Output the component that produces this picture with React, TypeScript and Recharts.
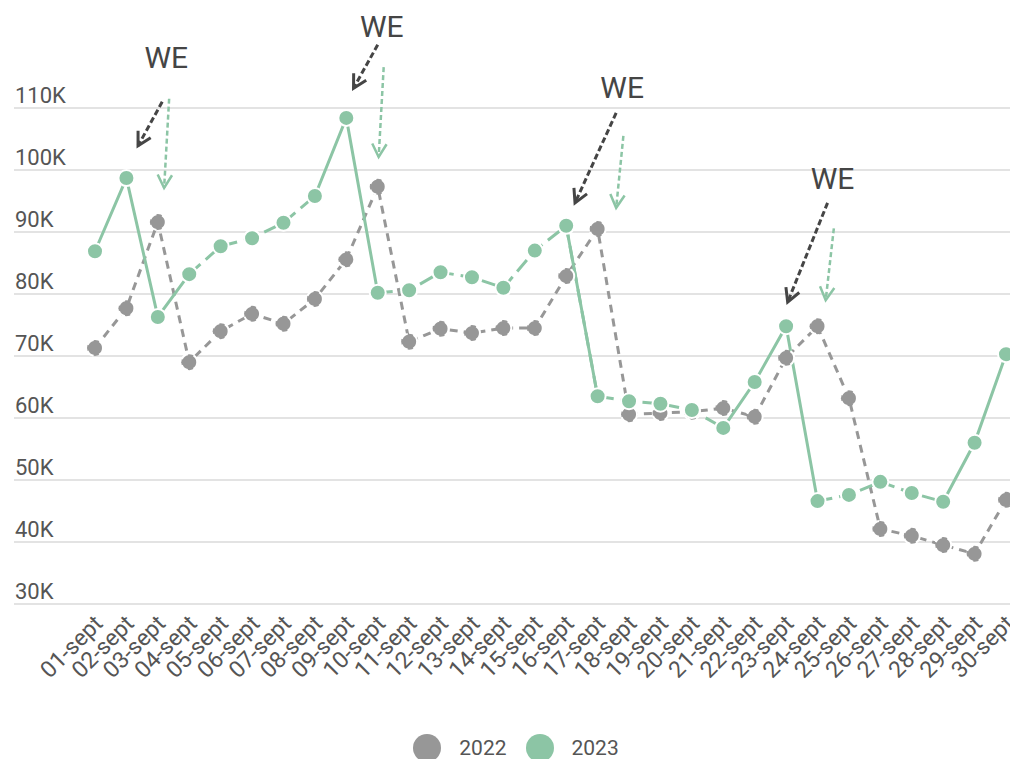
import React from 'react';
import {
    LineChart, Line, XAxis, YAxis, CartesianGrid, Legend, ReferenceLine, ReferenceDot
} from 'recharts';

const GRAY = '#979797';
const GREEN = '#8cc5a5';
const DARK = '#454545';
const TEXT = '#555555';

// Days of September
const categories = [
    '01-sept', '02-sept', '03-sept', '04-sept', '05-sept', '06-sept', '07-sept', '08-sept', '09-sept', '10-sept',
    '11-sept', '12-sept', '13-sept', '14-sept', '15-sept', '16-sept', '17-sept', '18-sept', '19-sept', '20-sept',
    '21-sept', '22-sept', '23-sept', '24-sept', '25-sept', '26-sept', '27-sept', '28-sept', '29-sept', '30-sept',
];

const values2022 = [
    71300, 77700, 91600, 69000, 74000, 76800, 75200, 79200, 85600, 97300,
    72300, 74400, 73700, 74500, 74500, 82900, 90500, 60600, 60800, 61000,
    61600, 60200, 69700, 74800, 63200, 42100, 41000, 39500, 38100, 46800,
];

const values2023 = [
    86900, 98700, 76300, 83200, 87700, 89000, 91500, 95800, 108400, 80200,
    80600, 83500, 82700, 81000, 87000, 91000, 63500, 62700, 62300, 61300,
    58400, 65800, 74800, 46600, 47600, 49700, 47900, 46500, 56000, 70300,
];

// day ranges where the 2023 line is drawn solid (the rest is dashed)
const solidRanges2023 = [[1, 4], [8, 10], [16, 17], [21, 24], [28, 30]];

const yTicks = [30000, 40000, 50000, 60000, 70000, 80000, 90000, 100000, 110000];

// "WE" annotations, in chart coordinates (day, value)
const weLabels = [
    { x: 3.27, y: 118200 },
    { x: 10.13, y: 123100 },
    { x: 17.78, y: 113400 },
    { x: 24.48, y: 98700 },
];

const arrows2022 = [
    { x1: 3.14, y1: 111000, x2: 2.37, y2: 103900 },
    { x1: 10.0, y1: 120200, x2: 9.23, y2: 113200 },
    { x1: 17.59, y1: 109200, x2: 16.28, y2: 94700 },
    { x1: 24.32, y1: 94700, x2: 23.05, y2: 78700 },
];

const arrows2023 = [
    { x1: 3.36, y1: 111500, x2: 3.2, y2: 97100 },
    { x1: 10.19, y1: 116600, x2: 10.03, y2: 102100 },
    { x1: 17.82, y1: 105500, x2: 17.59, y2: 93900 },
    { x1: 24.52, y1: 90600, x2: 24.26, y2: 79000 },
];

const legendItems = [
    { label: '2022', color: GRAY },
    { label: '2023', color: GREEN },
];

const segSolid = (d: number) => solidRanges2023.some(([a, b]) => a <= d && d + 1 <= b);

const data = categories.map((label, i) => {
    const day = i + 1;
    const prevSolid = day > 1 ? segSolid(day - 1) : null;
    const nextSolid = day < categories.length ? segSolid(day) : null;
    const inSolid = prevSolid === true || nextSolid === true;
    const inDashed = prevSolid === false || nextSolid === false;
    return {
        day,
        label,
        y2022: values2022[i],
        y2023: values2023[i],
        y2023s: inSolid ? values2023[i] : null,
        y2023d: inDashed ? values2023[i] : null,
    };
});

const Arrow = (props: any) => {
    const { x1, y1, x2, y2, color, dash, width } = props;
    if ([x1, y1, x2, y2].some(v => v == null || isNaN(v))) return null;
    const a = Math.atan2(y2 - y1, x2 - x1);
    const L = 15;
    const s = 0.5;
    const h1 = `${x2 - L * Math.cos(a - s)},${y2 - L * Math.sin(a - s)}`;
    const h2 = `${x2 - L * Math.cos(a + s)},${y2 - L * Math.sin(a + s)}`;
    return (
        <g>
            <line x1={x1} y1={y1} x2={x2} y2={y2} stroke={color} strokeWidth={width} strokeDasharray={dash} />
            <path d={`M${h1} L${x2},${y2} L${h2}`} fill="none" stroke={color} strokeWidth={width} />
        </g>
    );
};

const YTick = ({ x, y, payload }: any) => (
    <text x={x} y={y - 5} textAnchor="start" fontSize={22} fill={TEXT}>
        {`${payload.value / 1000}K`}
    </text>
);

const XTick = ({ x, y, payload }: any) => (
    <g transform={`translate(${x + 9},${y + 13})`}>
        <text x={0} y={0} textAnchor="end" fontSize={23} fill={TEXT} transform="rotate(-45)">
            {categories[payload.value - 1]}
        </text>
    </g>
);

const renderLegend = () => (
    <div style={{ display: 'flex', justifyContent: 'center', alignItems: 'center', height: 28, paddingLeft: 8 }}>
        {legendItems.map((item, i) => (
            <div key={item.label} style={{ display: 'flex', alignItems: 'center', marginLeft: i ? 19 : 0 }}>
                <span style={{ width: 28, height: 28, borderRadius: 14, background: item.color, display: 'inline-block' }} />
                <span style={{ marginLeft: 18, fontSize: 21, color: TEXT }}>{item.label}</span>
            </div>
        ))}
    </div>
);

const dotStyle = (color: string) => ({ r: 8, fill: color, stroke: '#fff', strokeWidth: 2 });

export default function App() {
    return (
        <div style={{ position: 'fixed', left: 0, top: 0, width: 1010, height: 759, overflow: 'hidden', background: '#fff', fontFamily: 'Roboto, sans-serif' }}>
            <LineChart width={1010} height={770} data={data} margin={{ top: 108, right: 0, left: 14, bottom: 8 }}>
                <CartesianGrid vertical={false} stroke="#e3e3e3" strokeWidth={2} />
                <XAxis
                    dataKey="day"
                    type="number"
                    domain={[1, 30]}
                    ticks={data.map(d => d.day)}
                    interval={0}
                    padding={{ left: 81, right: 4 }}
                    height={130}
                    axisLine={false}
                    tickLine={false}
                    tick={<XTick />}
                />
                <YAxis
                    type="number"
                    domain={[30000, 110000]}
                    ticks={yTicks}
                    width={1}
                    mirror
                    tickSize={0}
                    tickMargin={1}
                    axisLine={false}
                    tickLine={false}
                    tick={<YTick />}
                />
                <Legend verticalAlign="bottom" content={renderLegend} />

                <Line dataKey="y2022" stroke={GRAY} strokeWidth={3} strokeDasharray="8 6"
                    dot={dotStyle(GRAY)} activeDot={false} isAnimationActive={false} />
                <Line dataKey="y2023d" stroke={GREEN} strokeWidth={3} strokeDasharray="15 7"
                    dot={false} activeDot={false} isAnimationActive={false} />
                <Line dataKey="y2023s" stroke={GREEN} strokeWidth={3}
                    dot={false} activeDot={false} isAnimationActive={false} />
                <Line dataKey="y2023" stroke="none" strokeWidth={0}
                    dot={dotStyle(GREEN)} activeDot={false} isAnimationActive={false} />

                {arrows2022.map((a, i) => (
                    <ReferenceLine key={`a22-${i}`} ifOverflow="visible"
                        segment={[{ x: a.x1, y: a.y1 }, { x: a.x2, y: a.y2 }]}
                        shape={(p: any) => <Arrow {...p} color={DARK} dash="6 3" width={3} />} />
                ))}
                {arrows2023.map((a, i) => (
                    <ReferenceLine key={`a23-${i}`} ifOverflow="visible"
                        segment={[{ x: a.x1, y: a.y1 }, { x: a.x2, y: a.y2 }]}
                        shape={(p: any) => <Arrow {...p} color={GREEN} dash="5 3" width={2.5} />} />
                ))}
                {weLabels.map((w, i) => (
                    <ReferenceDot key={`we-${i}`} x={w.x} y={w.y} r={1} fill="none" stroke="none" ifOverflow="visible"
                        label={{ value: 'WE', position: 'center', fill: DARK, fontSize: 30 }} />
                ))}
            </LineChart>
        </div>
    );
}
